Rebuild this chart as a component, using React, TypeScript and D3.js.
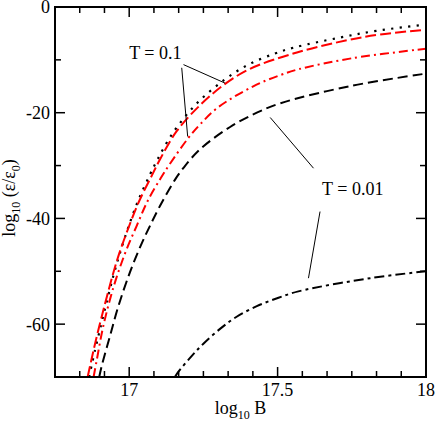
import React from "react";
import * as d3 from "d3";

// log10 B values and log10(eps/eps0)
const dottedB = [16.865, 16.885, 16.905, 16.925, 16.946, 16.967, 16.995, 17.029, 17.07, 17.096, 17.145, 17.225, 17.32, 17.405, 17.491, 17.553, 17.708, 17.834, 18.0];
const dottedE = [-70, -64.9, -60.2, -55.6, -51.0, -46.9, -42.0, -36.8, -31.7, -28.8, -24.0, -18.4, -13.8, -10.8, -8.8, -7.7, -5.8, -4.5, -3.3];

const redDashB = [16.86, 16.88, 16.9, 16.922, 16.944, 16.966, 16.996, 17.033, 17.077, 17.104, 17.16, 17.233, 17.317, 17.407, 17.565, 17.733, 17.845, 18.0];
const redDashE = [-70, -64.9, -60.2, -55.4, -50.8, -46.7, -42.0, -36.8, -31.8, -28.8, -23.5, -18.9, -14.8, -11.7, -8.6, -6.3, -5.2, -4.3];

const redDashDotB = [16.88, 16.89, 16.913, 16.946, 16.986, 17.026, 17.063, 17.106, 17.138, 17.199, 17.239, 17.299, 17.418, 17.508, 17.569, 17.75, 18.0];
const redDashDotE = [-70, -67.0, -60.3, -53.2, -46.6, -41.3, -36.6, -32.4, -29.6, -24.8, -22.2, -19.0, -15.0, -12.9, -11.8, -9.7, -7.9];

const blackDashB = [16.899, 16.907, 16.935, 16.963, 17.003, 17.04, 17.07, 17.104, 17.154, 17.182, 17.239, 17.34, 17.43, 17.51, 17.75, 18.0];
const blackDashE = [-70, -68.0, -62.3, -56.7, -50.1, -45.0, -41.4, -37.6, -32.7, -30.5, -26.9, -22.7, -20.0, -18.2, -14.9, -12.6];

const lowT_B = [17.154, 17.166, 17.211, 17.25, 17.306, 17.362, 17.43, 17.503, 17.57, 17.812, 18.0];
const lowT_E = [-70, -69.0, -66.0, -63.7, -60.9, -58.6, -56.6, -55.0, -53.8, -51.3, -50.0];

const xTickLabels = [17, 17.5, 18];
const yTickLabels = [0, -20, -40, -60];

// annotation leader lines, [B0, E0, B1, E1]
const leaders = [
  [17.183, -10.9, 17.323, -14.4],
  [17.177, -11.5, 17.197, -24.5],
  [17.475, -20.9, 17.621, -30.5],
  [17.643, -38.7, 17.604, -51.3],
];
const labels = [
  { b: 17.0, e: -9.8, text: "T = 0.1" },
  { b: 17.65, e: -35.6, text: "T = 0.01" },
];

const W = 436;
const H = 425;
const margin = { top: 7, right: 10, bottom: 48, left: 55 };
const font = "'Liberation Serif', 'Times New Roman', serif";

export default function App() {
  const x = d3.scaleLinear().domain([16.75, 18]).range([margin.left, W - margin.right]);
  const y = d3.scaleLinear().domain([-70, 0]).range([H - margin.bottom, margin.top]);
  const [x0, x1] = x.range();
  const [y0, y1] = y.range();

  const line = d3
    .line<[number, number]>()
    .x((d) => x(d[0]))
    .y((d) => y(d[1]))
    .curve(d3.curveCatmullRom.alpha(0.5));

  const zip = (a: number[], b: number[]) => a.map((v, i) => [v, b[i]] as [number, number]);

  const series = [
    { pts: zip(dottedB, dottedE), color: "#000", dash: "2.2,6.3", w: 2.2 },
    { pts: zip(redDashB, redDashE), color: "#ff0000", dash: "11,4", w: 2 },
    { pts: zip(redDashDotB, redDashDotE), color: "#ff0000", dash: "9,4,2,4", w: 2 },
    { pts: zip(blackDashB, blackDashE), color: "#000", dash: "10,5", w: 2 },
    { pts: zip(lowT_B, lowT_E), color: "#000", dash: "10,4,3,4", w: 2 },
  ];

  const xMinor = d3.range(0, 16).map((i) => 16.75 + i / 12);
  const yMinor = d3.range(-70, 1, 10);
  const isMajorX = (v: number) => xTickLabels.some((t) => Math.abs(t - v) < 1e-6);
  const isMajorY = (v: number) => yTickLabels.some((t) => Math.abs(t - v) < 1e-6);

  return (
    <svg width={W} height={H} style={{ position: "absolute", left: 0, top: 0 }} fontFamily={font}>
      <defs>
        <clipPath id="plot">
          <rect x={x0} y={y1} width={x1 - x0} height={y0 - y1} />
        </clipPath>
      </defs>
      <rect width={W} height={H} fill="#fff" />

      <g clipPath="url(#plot)">
        {series.map((s, i) => (
          <path key={i} d={line(s.pts) || ""} fill="none" stroke={s.color} strokeWidth={s.w} strokeDasharray={s.dash} />
        ))}
      </g>

      {leaders.map((l, i) => (
        <line key={i} x1={x(l[0])} y1={y(l[1])} x2={x(l[2])} y2={y(l[3])} stroke="#000" strokeWidth={1} />
      ))}
      {labels.map((l, i) => (
        <text key={i} x={x(l.b)} y={y(l.e)} fontSize={18}>
          {l.text}
        </text>
      ))}

      {/* ticks on all four sides, pointing inward */}
      <g stroke="#000" strokeWidth={1.5}>
        {xMinor.map((v, i) => {
          const len = isMajorX(v) ? 10 : 6;
          return (
            <g key={i}>
              <line x1={x(v)} x2={x(v)} y1={y0} y2={y0 - len} />
              <line x1={x(v)} x2={x(v)} y1={y1} y2={y1 + len} />
            </g>
          );
        })}
        {yMinor.map((v, i) => {
          const len = isMajorY(v) ? 10 : 6;
          return (
            <g key={i}>
              <line x1={x0} x2={x0 + len} y1={y(v)} y2={y(v)} />
              <line x1={x1} x2={x1 - len} y1={y(v)} y2={y(v)} />
            </g>
          );
        })}
      </g>
      <rect x={x0} y={y1} width={x1 - x0} height={y0 - y1} fill="none" stroke="#000" strokeWidth={2} />

      {xTickLabels.map((t) => (
        <text key={t} x={x(t)} y={y0 + 19} fontSize={18} textAnchor="middle">
          {t}
        </text>
      ))}
      {yTickLabels.map((t) => (
        <text key={t} x={x0 - 5} y={y(t)} dy="0.36em" fontSize={18} textAnchor="end">
          {t}
        </text>
      ))}

      <text x={(x0 + x1) / 2} y={414} fontSize={18} textAnchor="middle">
        log
        <tspan fontSize={12} dy={5}>10</tspan>
        <tspan dy={-5}> B</tspan>
      </text>
      <text transform={`translate(15,${(y0 + y1) / 2 + 6}) rotate(-90)`} fontSize={18} textAnchor="middle">
        log
        <tspan fontSize={12} dy={5}>10</tspan>
        <tspan dy={-5}> (ε/ε</tspan>
        <tspan fontSize={12} dy={5}>0</tspan>
        <tspan dy={-5}>)</tspan>
      </text>
    </svg>
  );
}
